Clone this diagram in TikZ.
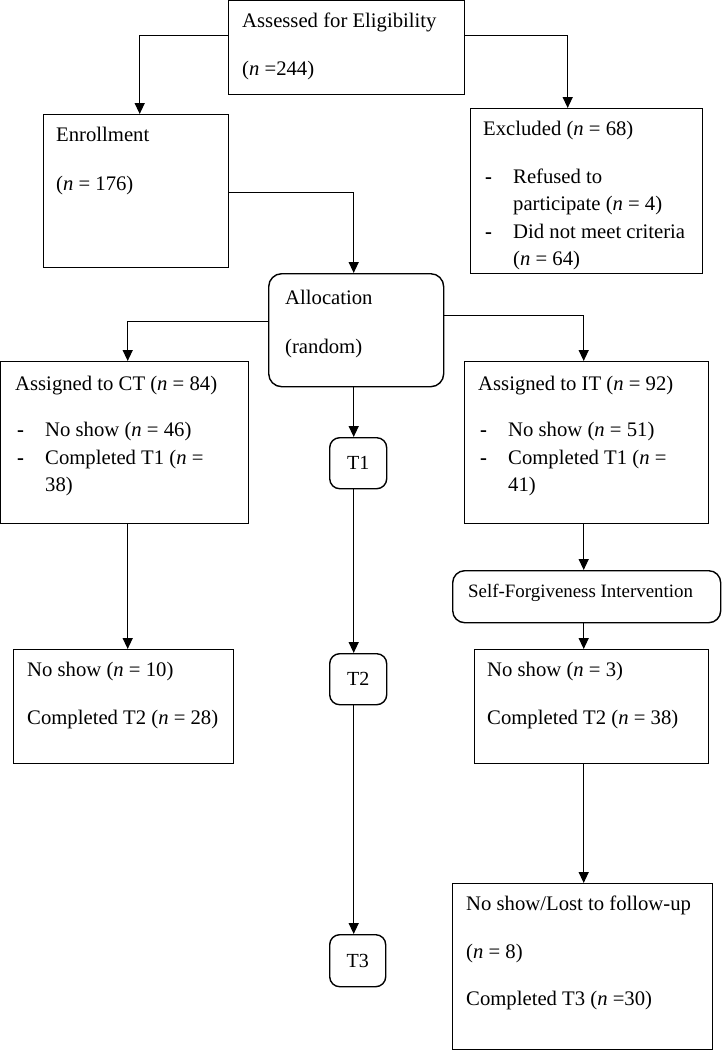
\documentclass[tikz,border=0pt]{standalone}
\usepackage{fontspec}
\setmainfont{Liberation Serif}
\usetikzlibrary{arrows.meta}

\newcommand{\nn}{\textit{n}}
\newcommand{\ListItem}[1]{\makebox[30pt][l]{\hspace{2pt}\textbf{-}}#1}
\newcommand{\ListCont}[1]{\hspace*{30pt}#1}

\tikzset{
  box/.style={draw, line width=1.4pt, anchor=north west, inner sep=0pt},
  roundbox/.style={box, rounded corners=13pt},
  timebox/.style={box, rounded corners=10pt, font=\fontsize{20}{25}\selectfont},
  boxtext/.style={anchor=north west, inner sep=0pt, align=left,
    font=\fontsize{20.7}{27.5}\selectfont, execute at begin node=\strut},
  arr/.style={-{Triangle[length=11pt,width=10pt]}, line width=1.4pt},
}

\begin{document}
\begin{tikzpicture}[x=1pt, y=-1pt]
    \useasboundingbox (0,0) rectangle (721,1050);
    % boxes
    \node[box, minimum width=236pt, minimum height=94pt] (assess) at (228,0) {};
    \node[box, minimum width=185pt, minimum height=153pt] (enroll) at (43,114) {};
    \node[box, minimum width=232pt, minimum height=165pt] (excl) at (470,108) {};
    \node[roundbox, minimum width=175pt, minimum height=113pt] (alloc) at (268,273) {};
    \node[box, minimum width=248pt, minimum height=162pt] (ct) at (0,361) {};
    \node[box, minimum width=244pt, minimum height=162pt] (it) at (464,361) {};
    \node[timebox, minimum width=57pt, minimum height=51pt] (t1) at (329,437) {T1};
    \node[roundbox, rounded corners=12pt, minimum width=268pt, minimum height=52pt] (sfi) at (452,570) {};
    \node[box, minimum width=220pt, minimum height=114pt] (ct2) at (13,649) {};
    \node[timebox, minimum width=57pt, minimum height=51pt] (t2) at (329,653) {T2};
    \node[box, minimum width=234pt, minimum height=114pt] (it2) at (474,649) {};
    \node[box, minimum width=260pt, minimum height=166pt] (it3) at (452,883) {};
    \node[timebox, minimum width=56pt, minimum height=52pt] (t3) at (329,934) {T3};
    %
    % texts
    \node[boxtext] (assess-t) at ([shift={(14pt,-13pt)}]assess.north west)
      {Assessed for Eligibility\\[20pt](\nn{} =244)};
    \node[boxtext] (enroll-t) at ([shift={(13pt,-13pt)}]enroll.north west)
      {Enrollment\\[21pt](\nn{} = 176)};
    \node[boxtext] (excl-t) at ([shift={(13pt,-13pt)}]excl.north west)
      {Excluded (\nn{} = 68)\\[20pt]\ListItem{Refused to}\\\ListCont{participate (\nn{} = 4)}\\\ListItem{Did not meet criteria}\\\ListCont{(\nn{} = 64)}};
    \node[boxtext] (alloc-t) at ([shift={(17pt,-16.5pt)}]alloc.north west)
      {Allocation\\[22pt](random)};
    \node[boxtext] (ct-t) at ([shift={(15pt,-14.5pt)}]ct.north west)
      {Assigned to CT (\nn{} = 84)\\[19pt]\ListItem{No show (\nn{} = 46)}\\\ListItem{Completed T1 (\nn{} =}\\\ListCont{38)}};
    \node[boxtext] (it-t) at ([shift={(14pt,-14.5pt)}]it.north west)
      {Assigned to IT (\nn{} = 92)\\[19pt]\ListItem{No show (\nn{} = 51)}\\\ListItem{Completed T1 (\nn{} =}\\\ListCont{41)}};
    \node[boxtext, font=\fontsize{18.9}{25}\selectfont] (sfi-t) at ([shift={(16pt,-10pt)}]sfi.north west)
      {Self-Forgiveness Intervention};
    \node[boxtext] (ct2-t) at ([shift={(14pt,-13pt)}]ct2.north west)
      {No show (\nn{} = 10)\\[20pt]Completed T2 (\nn{} = 28)};
    \node[boxtext] (it2-t) at ([shift={(13pt,-13pt)}]it2.north west)
      {No show (\nn{} = 3)\\[20pt]Completed T2 (\nn{} = 38)};
    \node[boxtext] (it3-t) at ([shift={(14pt,-13pt)}]it3.north west)
      {No show/Lost to follow-up\\[20pt](\nn{} = 8)\\[20pt]Completed T3 (\nn{} =30)};
    %
    % arrows
    \draw[arr] ([yshift=12pt]assess.west) -| ([xshift=3.5pt]enroll.north);
    \draw[arr] ([yshift=12pt]assess.east) -| ([xshift=-19pt]excl.north);
    \draw[arr] ([yshift=-1.5pt]enroll.east) -| ([xshift=-2.5pt]alloc.north);
    \draw[arr] ([yshift=8.5pt]alloc.west) -| ([xshift=3pt]ct.north);
    \draw[arr] ([yshift=14.5pt]alloc.east) -| ([xshift=-3pt]it.north);
    \draw[arr] ([xshift=-2.5pt]alloc.south) -- ([xshift=-2.5pt]alloc.south |- t1.north);
    \draw[arr] ([xshift=-4.5pt]t1.south) -- ([xshift=-4.5pt]t1.south |- t2.north);
    \draw[arr] ([xshift=-4.5pt]t2.south) -- ([xshift=-4.5pt]t2.south |- t3.north);
    \draw[arr] ([xshift=3pt]ct.south) -- ([xshift=3pt]ct.south |- ct2.north);
    \draw[arr] ([xshift=-3pt]it.south) -- ([xshift=-3pt]it.south |- sfi.north);
    \draw[arr] ([xshift=-3pt]sfi.south) -- ([xshift=-3pt]sfi.south |- it2.north);
    \draw[arr] ([xshift=-8pt]it2.south) -- ([xshift=-8pt]it2.south |- it3.north);
\end{tikzpicture}
\end{document}
